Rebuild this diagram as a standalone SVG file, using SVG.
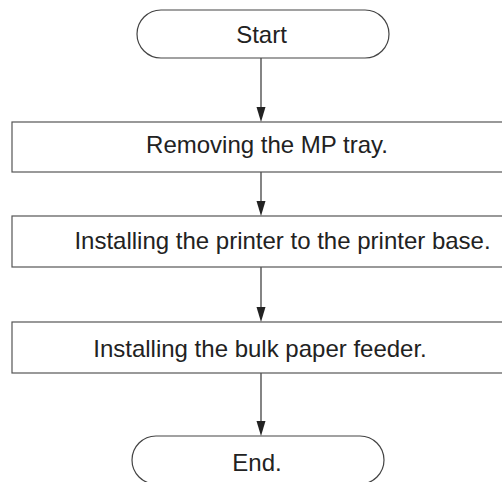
<svg xmlns="http://www.w3.org/2000/svg" width="502" height="482" viewBox="0 0 502 482">
<style>
.box{fill:#fff;stroke:#555;stroke-width:1.2}
.term{fill:#fff;stroke:#444;stroke-width:1.2}
.lbl{font-family:"Liberation Sans",Arial,sans-serif;font-size:24px;fill:#222;text-anchor:middle}
.conn{stroke:#333;stroke-width:1.2;fill:none}
.head{fill:#222}
</style>
<rect width="502" height="482" fill="#fff"/>
<g id="connectors">
<line class="conn" x1="261" y1="58" x2="261" y2="107"/>
<path class="head" d="M256.5,107 L265.5,107 L261,122 Z"/>
<line class="conn" x1="261" y1="172" x2="261" y2="201"/>
<path class="head" d="M256.5,201 L265.5,201 L261,216 Z"/>
<line class="conn" x1="261" y1="267" x2="261" y2="307"/>
<path class="head" d="M256.5,307 L265.5,307 L261,322 Z"/>
<line class="conn" x1="261" y1="373" x2="261" y2="421"/>
<path class="head" d="M256.5,421 L265.5,421 L261,436 Z"/>
</g>
<g id="start">
<rect class="term" x="137" y="10" width="252" height="48" rx="24" ry="24"/>
<text class="lbl" x="261.5" y="43">Start</text>
</g>
<g id="step1">
<rect class="box" x="12" y="122" width="500" height="50"/>
<text class="lbl" x="267" y="153">Removing the MP tray.</text>
</g>
<g id="step2">
<rect class="box" x="12" y="216" width="500" height="51"/>
<text class="lbl" x="282.5" y="249">Installing the printer to the printer base.</text>
</g>
<g id="step3">
<rect class="box" x="12" y="322" width="500" height="51"/>
<text class="lbl" x="260" y="357">Installing the bulk paper feeder.</text>
</g>
<g id="end">
<rect class="term" x="132" y="436" width="252" height="48" rx="24" ry="24"/>
<text class="lbl" x="257" y="471">End.</text>
</g>
</svg>
